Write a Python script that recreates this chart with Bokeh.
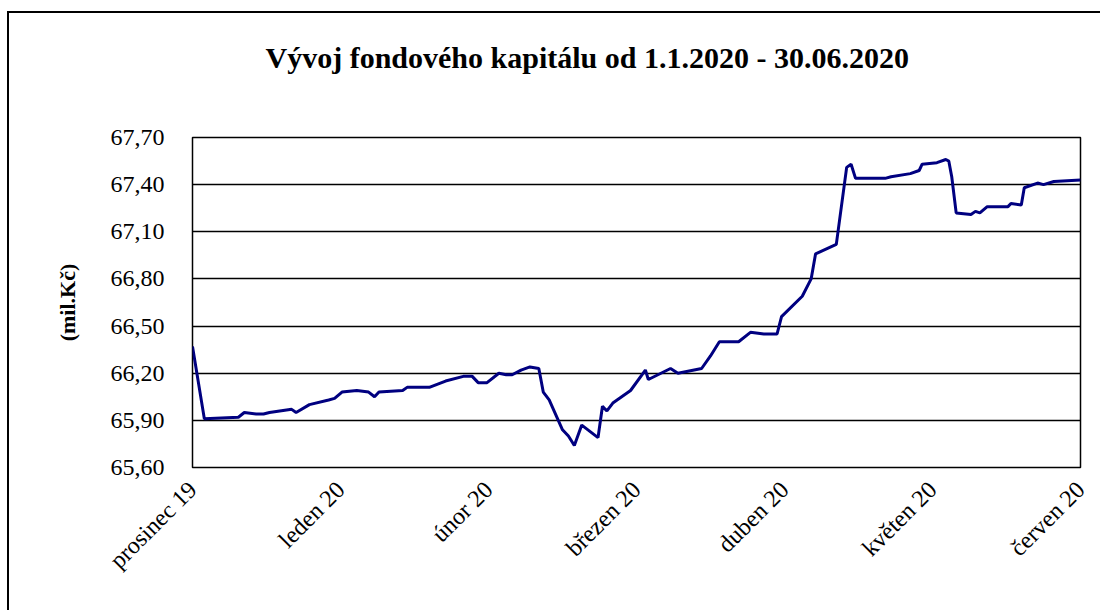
import math
from bokeh.plotting import figure
from bokeh.models import Range1d, FixedTicker, CustomJSTickFormatter, Title
from bokeh.embed import file_html
from bokeh.resources import INLINE

# Month labels of the category axis
months = ["prosinec 19", "leden 20", "únor 20", "březen 20", "duben 20", "květen 20", "červen 20"]
month_pos = [0, 1, 2, 3, 4, 5, 6]

# Y axis ticks (mil. Kč)
y_ticks = [65.60, 65.90, 66.20, 66.50, 66.80, 67.10, 67.40, 67.70]

# Fund capital series: position along the month axis and value (mil. Kč)
t = [0.00, 0.08, 0.31, 0.35, 0.43, 0.48, 0.52, 0.67, 0.70, 0.79,
     0.92, 0.96, 1.01, 1.11, 1.19, 1.23, 1.26, 1.42, 1.45, 1.60,
     1.71, 1.83, 1.89, 1.93, 1.99, 2.07, 2.12, 2.16, 2.22, 2.28,
     2.34, 2.37, 2.41, 2.50, 2.54, 2.58, 2.63, 2.74, 2.77, 2.80,
     2.84, 2.96, 3.06, 3.08, 3.23, 3.28, 3.44, 3.50, 3.56, 3.69,
     3.77, 3.86, 3.95, 3.98, 4.12, 4.18, 4.21, 4.35, 4.42, 4.45,
     4.48, 4.68, 4.72, 4.85, 4.91, 4.93, 5.03, 5.09, 5.11, 5.13,
     5.16, 5.26, 5.29, 5.32, 5.37, 5.51, 5.53, 5.60, 5.62, 5.71,
     5.75, 5.82, 6.00]
capital = [66.37, 65.91, 65.92, 65.95, 65.94, 65.94, 65.95, 65.97, 65.95, 66.00,
           66.03, 66.04, 66.08, 66.09, 66.08, 66.05, 66.08, 66.09, 66.11, 66.11,
           66.15, 66.18, 66.18, 66.14, 66.14, 66.20, 66.19, 66.19, 66.22, 66.24,
           66.23, 66.08, 66.03, 65.84, 65.80, 65.74, 65.87, 65.79, 65.99, 65.96,
           66.01, 66.09, 66.22, 66.16, 66.23, 66.20, 66.23, 66.31, 66.40, 66.40,
           66.46, 66.45, 66.45, 66.56, 66.69, 66.80, 66.96, 67.02, 67.51, 67.53,
           67.44, 67.44, 67.45, 67.47, 67.49, 67.53, 67.54, 67.56, 67.55, 67.45,
           67.22, 67.21, 67.23, 67.22, 67.26, 67.26, 67.28, 67.27, 67.38, 67.41,
           67.40, 67.42, 67.43]

SERIF = "Liberation Serif"
TITLE = "Vývoj fondového kapitálu od 1.1.2020 - 30.06.2020"

p = figure(
    frame_width=888, frame_height=330,
    output_backend="svg", toolbar_location=None,
    x_range=Range1d(month_pos[0], month_pos[-1]),
    y_range=Range1d(y_ticks[0], y_ticks[-1]),
    min_border_left=183, min_border_right=20,
    min_border_top=124, min_border_bottom=143,
    title=None,
)
p.styles = {"border-left": "2px solid black", "border-top": "2px solid black",
            "margin-left": "7px", "margin-top": "11px"}

# spacer between title and plot area (closest to the frame)
p.add_layout(Title(text=" ", text_font_size="10px", standoff=51), "above")
# main title
p.add_layout(Title(text=TITLE, align="left", offset=73, vertical_align="bottom", standoff=0,
                   text_font=SERIF, text_font_style="bold", text_font_size="30px",
                   text_color="black"), "above")

p.background_fill_color = "white"
p.border_fill_color = "white"
p.outline_line_color = "black"
p.outline_line_width = 1.5

# Y axis
p.yaxis.ticker = FixedTicker(ticks=y_ticks)
p.yaxis.formatter = CustomJSTickFormatter(code="return tick.toFixed(2).replace('.', ',');")
p.yaxis.major_label_text_font = SERIF
p.yaxis.major_label_text_font_size = "24px"
p.yaxis.major_label_text_color = "black"
p.yaxis.axis_line_color = None
p.yaxis.major_tick_line_color = None
p.yaxis.minor_tick_line_color = None
p.yaxis.major_label_standoff = 22
p.yaxis.axis_label = "(mil.Kč)"
p.yaxis.axis_label_text_font = SERIF
p.yaxis.axis_label_text_font_style = "bold"
p.yaxis.axis_label_text_font_size = "22px"
p.yaxis.axis_label_text_color = "black"
p.yaxis.axis_label_standoff = 28

# X axis
p.xaxis.ticker = FixedTicker(ticks=month_pos)
p.xaxis.major_label_overrides = {pos: lab for pos, lab in zip(month_pos, months)}
p.xaxis.major_label_orientation = math.pi / 4
p.xaxis.major_label_text_font = SERIF
p.xaxis.major_label_text_font_size = "24px"
p.xaxis.major_label_text_color = "black"
p.xaxis.axis_line_color = None
p.xaxis.major_tick_line_color = None
p.xaxis.minor_tick_line_color = None
p.xaxis.major_label_standoff = 12

# Grid
p.xgrid.visible = False
p.ygrid.ticker = FixedTicker(ticks=y_ticks)
p.ygrid.grid_line_color = "black"
p.ygrid.grid_line_width = 1.5

p.line(t, capital, line_color="#000080", line_width=3)

open("out.html", "w").write(file_html(p, INLINE))
